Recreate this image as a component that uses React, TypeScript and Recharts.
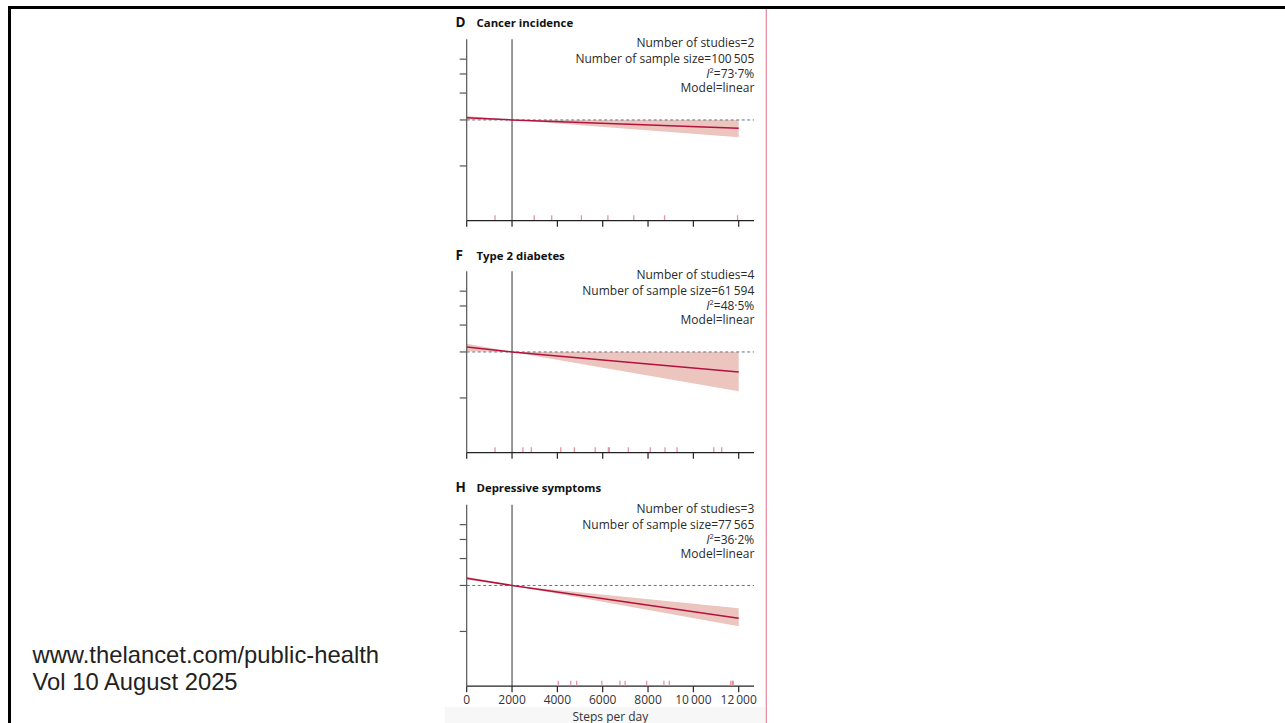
import React from "react";
import { ComposedChart, Line, Area, Scatter, XAxis, YAxis, ReferenceLine, Label } from "recharts";

// ---- data ----
const steps = [0, 2000, 12000];
const xTicks = [0, 2000, 4000, 6000, 8000, 10000, 12000];
const xTickLabels = ["0", "2000", "4000", "6000", "8000", "10\u2009000", "12\u2009000"];
const yTicks = [0.5, 1, 1.5, 2, 2.5];

const cancerRR = [1.033, 1, 0.883];
const cancerLow = [1.005, 1, 0.771];
const cancerHigh = [1.06, 1, 1.0];
const cancerRug = [1250, 2980, 3750, 5060, 6230, 7370, 8730, 11950];

const diabetesRR = [1.078, 1, 0.74];
const diabetesLow = [1.01, 1, 0.552];
const diabetesHigh = [1.133, 1, 1.0];
const diabetesRug = [1250, 2480, 2850, 4150, 4750, 5670, 6250, 6290, 7130, 8100, 8750, 9280, 10900, 11250];

const depressionRR = [1.116, 1, 0.61];
const depressionLow = [1.09, 1, 0.54];
const depressionHigh = [1.14, 1, 0.71];
const depressionRug = [4040, 4590, 4850, 5960, 6760, 6990, 7940, 8700, 8940, 11650, 11720, 11760];

const cancerStats = ["Number of studies=2", "Number of sample size=100\u2009505", "73\u00b77%", "Model=linear"];
const diabetesStats = ["Number of studies=4", "Number of sample size=61\u2009594", "48\u00b75%", "Model=linear"];
const depressionStats = ["Number of studies=3", "Number of sample size=77\u2009565", "36\u00b72%", "Model=linear"];

const X_MAX = 12675;
const Y_MIN = 0.219;
const Y_MAX = 3.373;
const PLOT_H = 181.4;

const FONT = "'Open Sans', 'Noto Sans', sans-serif";

function RugMark(props: any) {
  const { cx, cy } = props;
  if (cx == null || cy == null) return <g />;
  return <line x1={cx} x2={cx} y1={cy - 5.5} y2={cy - 0.6} stroke="#e693a0" strokeWidth={1.3} />;
}

type PanelProps = {
  top: number;
  height: number;
  marginTop: number;
  bottomAxis: boolean;
  rr: number[];
  low: number[];
  high: number[];
  rug: number[];
};

function Panel({ top, height, marginTop, bottomAxis, rr, low, high, rug }: PanelProps) {
  const lineData = steps.map((x, i) => ({ x, rr: rr[i], band: [low[i], high[i]] }));
  const rugData = rug.map((x) => ({ x, y: Y_MIN }));
  const xAxisHeight = bottomAxis ? 36.8 : 10;
  const marginBottom = height - (marginTop + PLOT_H) - xAxisHeight;
  return (
    <div style={{ position: "absolute", left: 400, top, width: 370, height }}>
      <ComposedChart
        width={370}
        height={height}
        margin={{ top: marginTop, right: 16, bottom: marginBottom, left: 26.7 }}
      >
        <XAxis
          dataKey="x"
          type="number"
          domain={[0, X_MAX]}
          allowDataOverflow
          ticks={xTicks}
          interval={0}
          height={xAxisHeight}
          tickSize={6}
          tickMargin={3}
          axisLine={{ stroke: "#222", strokeWidth: 1.2 }}
          tickLine={{ stroke: "#222", strokeWidth: 1.2 }}
          tick={{ fill: "#333", fontSize: 12, fontFamily: FONT }}
          tickFormatter={(v: number) => (bottomAxis ? xTickLabels[xTicks.indexOf(v)] : "")}
        >
          {bottomAxis && (
            <Label
              value="Steps per day"
              position="insideBottom"
              offset={2.5}
              style={{ fill: "#333", fontSize: 12, fontFamily: FONT }}
            />
          )}
        </XAxis>
        <YAxis
          type="number"
          scale="log"
          domain={[Y_MIN, Y_MAX]}
          allowDataOverflow
          ticks={yTicks}
          interval={0}
          width={40}
          tickSize={7}
          tickFormatter={() => ""}
          axisLine={{ stroke: "#555", strokeWidth: 1.2 }}
          tickLine={{ stroke: "#555", strokeWidth: 1.2 }}
        />
        <Area
          data={lineData}
          dataKey="band"
          type="linear"
          fill="#ecc5bf"
          fillOpacity={1}
          stroke="none"
          isAnimationActive={false}
        />
        <ReferenceLine y={1} stroke="#5f7486" strokeWidth={1} strokeDasharray="3 2.5" />
        <ReferenceLine x={2000} stroke="#555" strokeWidth={1.2} />
        <Scatter
          data={rugData}
          dataKey="y"
          shape={(p: any) => <RugMark {...p} />}
          isAnimationActive={false}
        />
        <Line
          data={lineData}
          dataKey="rr"
          type="linear"
          stroke="#b3123d"
          strokeWidth={1.5}
          dot={false}
          isAnimationActive={false}
        />
      </ComposedChart>
    </div>
  );
}

function Stats({ lines, y }: { lines: string[]; y: number }) {
  const x = 754.3;
  const style = { fill: "#2a2a2a", fontSize: 12, fontFamily: FONT };
  return (
    <g>
      <text x={x} y={y} textAnchor="end" style={style}>{lines[0]}</text>
      <text x={x} y={y + 15.5} textAnchor="end" style={style}>{lines[1]}</text>
      <text x={x} y={y + 30.5} textAnchor="end" style={style}>
        <tspan fontStyle="italic">I</tspan>
        <tspan dy={-4.5} fontSize={7.5}>2</tspan>
        <tspan dy={4.5}>{"=" + lines[2]}</tspan>
      </text>
      <text x={x} y={y + 45} textAnchor="end" style={style}>{lines[3]}</text>
    </g>
  );
}

function Title({ letter, text, y }: { letter: string; text: string; y: number }) {
  return (
    <g style={{ fontFamily: FONT, fontWeight: 700, fill: "#111" }}>
      <text x={455.5} y={y} fontSize={13.5}>{letter}</text>
      <text x={476.5} y={y} fontSize={11.4}>{text}</text>
    </g>
  );
}

export default function App() {
  return (
    <div
      style={{
        position: "fixed",
        left: 0,
        top: 0,
        width: 1285,
        height: 723,
        background: "#fff",
        overflow: "hidden",
      }}
    >
      <svg width={1285} height={723} style={{ position: "absolute", left: 0, top: 0 }}>
        <rect x={445} y={707} width={320} height={16} fill="#f7f7f7" />
      </svg>
      <Panel top={0} height={240} marginTop={39.3} bottomAxis={false} rr={cancerRR} low={cancerLow} high={cancerHigh} rug={cancerRug} />
      <Panel top={240} height={230} marginTop={31.3} bottomAxis={false} rr={diabetesRR} low={diabetesLow} high={diabetesHigh} rug={diabetesRug} />
      <Panel top={470} height={253} marginTop={34.8} bottomAxis={true} rr={depressionRR} low={depressionLow} high={depressionHigh} rug={depressionRug} />
      <svg width={1285} height={723} style={{ position: "absolute", left: 0, top: 0, pointerEvents: "none" }}>
        <rect x={8} y={6} width={1277} height={3} fill="#000" />
        <rect x={8} y={6} width={3} height={717} fill="#000" />
        <line x1={766.3} x2={766.3} y1={9} y2={723} stroke="#e0879a" strokeWidth={1.2} />
        <Title letter="D" text="Cancer incidence" y={26.5} />
        <Title letter="F" text="Type 2 diabetes" y={260} />
        <Title letter="H" text="Depressive symptoms" y={491.7} />
        <Stats lines={cancerStats} y={47.3} />
        <Stats lines={diabetesStats} y={279} />
        <Stats lines={depressionStats} y={513.3} />
        <g style={{ fontFamily: "'Liberation Sans', Arial, sans-serif", fontSize: 23.8, fill: "#222" }}>
          <text x={32.5} y={663.3}>www.thelancet.com/public-health</text>
          <text x={32.5} y={690}>Vol 10 August 2025</text>
        </g>
      </svg>
    </div>
  );
}
